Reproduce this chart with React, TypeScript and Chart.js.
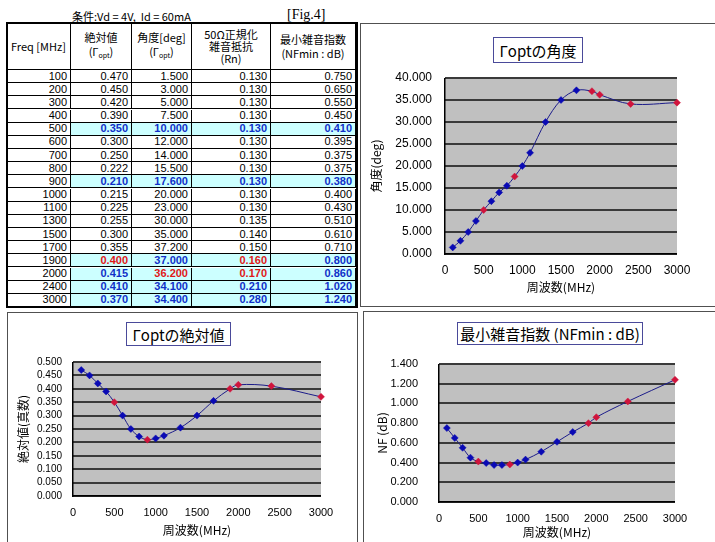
import React, { useEffect, useRef } from "react";
import { Chart, registerables } from "chart.js";

Chart.register(...registerables);

// ---------- data ----------
const freqMHz = [100, 200, 300, 400, 500, 600, 700, 800, 900, 1000, 1100, 1300, 1500, 1700, 1900, 2000, 2400, 3000];
const absGamma = [0.47, 0.45, 0.42, 0.39, 0.35, 0.3, 0.25, 0.222, 0.21, 0.215, 0.225, 0.255, 0.3, 0.355, 0.4, 0.415, 0.41, 0.37];
const angleDeg = [1.5, 3.0, 5.0, 7.5, 10.0, 12.0, 14.0, 15.5, 17.6, 20.0, 23.0, 30.0, 35.0, 37.2, 37.0, 36.2, 34.1, 34.4];
const rnNorm = [0.13, 0.13, 0.13, 0.13, 0.13, 0.13, 0.13, 0.13, 0.13, 0.13, 0.13, 0.135, 0.14, 0.15, 0.16, 0.17, 0.21, 0.28];
const nfMin = [0.75, 0.65, 0.55, 0.45, 0.41, 0.395, 0.375, 0.375, 0.38, 0.4, 0.43, 0.51, 0.61, 0.71, 0.8, 0.86, 1.02, 1.24];
const highlightFreqs = [500, 900, 1900, 2000, 2400, 3000];
// [freq, column index] of values printed in red
const redCells = [[1900, 1], [1900, 3], [2000, 2], [2000, 3]];
const headerTexts = [
  ["Freq [MHz]"],
  ["絶対値", "(Γopt)"],
  ["角度[deg]", "(Γopt)"],
  ["50Ω正規化", "雑音抵抗", "(Rn)"],
  ["最小雑音指数", "(NFmin : dB)"],
];
const captionText = "条件:Vd = 4V,  Id = 60mA";
const figText = "[Fig.4]";
const xAxisTitle = "周波数(MHz)";
const xMin = 0;
const xMax = 3000;
const xStep = 500;

// ---------- styles ----------
const LINE = "#1c1c8a";
const PT_BLUE = "#0a0ab4";
const PT_RED = "#d0143c";
const HL_BG = "#ccffff";
const TXT_BLUE = "#1030c8";
const TXT_RED = "#e01818";
const SANS = "'Liberation Sans', 'Noto Sans CJK JP', sans-serif";
const CJK = "'Noto Sans CJK JP', 'Liberation Sans', sans-serif";

// Plot-area background + horizontal grid, drawn from the y scale's own ticks
const plotBg = {
  id: "plotBg",
  beforeDatasetsDraw(chart: any) {
    const { ctx, chartArea: a, scales } = chart;
    const y = scales.y;
    ctx.save();
    ctx.setLineDash([]);
    ctx.globalAlpha = 1;
    ctx.fillStyle = "#c0c0c0";
    ctx.fillRect(a.left, a.top, a.right - a.left, a.bottom - a.top);
    ctx.fillStyle = "#3a3a3a";
    for (const t of y.ticks) {
      const py = Math.round(y.getPixelForValue(t.value));
      ctx.fillRect(a.left, py - 1, a.right - a.left, 2);
    }
    ctx.fillStyle = "#000";
    ctx.fillRect(Math.round(a.left) - 1, a.top, 1.5, a.bottom - a.top + 1);
    ctx.fillRect(a.left - 1, Math.round(a.bottom) - 1, a.right - a.left + 1, 1.5);
    ctx.restore();
  },
};

type Area = { left: number; right: number; top: number; bottom: number };

function XYChart(props: {
  values: number[];
  yMax: number;
  yStep: number;
  yTitle: string;
  left: number;
  top: number;
  width: number;
  height: number;
  area: Area;
  yTickSize: number;
  xTickSize: number;
  yPad: number;
  xPad: number;
  yTitleX: number;
  xTitleY: number;
}) {
  const ref = useRef<HTMLCanvasElement>(null);
  useEffect(() => {
    const p = props;
    const lh = 12 * 1.2;
    const colors = freqMHz.map((f) => (highlightFreqs.includes(f) ? PT_RED : PT_BLUE));
    const chart = new Chart(ref.current as HTMLCanvasElement, {
      type: "line",
      data: {
        datasets: [
          {
            data: freqMHz.map((f, i) => ({ x: f, y: p.values[i] })),
            borderColor: LINE,
            borderWidth: 1,
            tension: 0.35,
            fill: false,
            pointStyle: "rectRot",
            pointRadius: 3.5,
            pointHoverRadius: 3.5,
            pointBackgroundColor: colors,
            pointBorderColor: colors,
            pointBorderWidth: 0.5,
            clip: 8,
          } as any,
        ],
      },
      options: {
        responsive: false,
        maintainAspectRatio: false,
        animation: false,
        events: [],
        layout: { padding: { left: 0, top: p.area.top, right: p.width - p.area.right, bottom: 0 } },
        plugins: { legend: { display: false }, tooltip: { enabled: false } },
        scales: {
          x: {
            type: "linear",
            min: xMin,
            max: xMax,
            ticks: {
              stepSize: xStep,
              padding: p.xPad,
              maxRotation: 0,
              autoSkip: false,
              color: "#000",
              font: { family: SANS, size: p.xTickSize },
              callback: (v: any) => String(v),
            },
            grid: { display: false, drawTicks: false },
            border: { display: false },
            title: {
              display: true,
              text: xAxisTitle,
              color: "#000",
              font: { family: CJK, size: 12 },
              padding: { top: 0, bottom: p.height - p.xTitleY - lh / 2 },
            },
            afterFit: (s: any) => {
              s.height = p.height - p.area.bottom;
            },
          },
          y: {
            min: 0,
            max: p.yMax,
            ticks: {
              stepSize: p.yStep,
              padding: p.yPad,
              autoSkip: false,
              color: "#000",
              font: { family: SANS, size: p.yTickSize },
              callback: (v: any) => Number(v).toFixed(3),
            },
            grid: { display: false, drawTicks: false },
            border: { display: false },
            title: {
              display: true,
              text: p.yTitle,
              color: "#000",
              font: { family: CJK, size: 12 },
              padding: { top: p.yTitleX - lh / 2, bottom: 0 },
            },
            afterFit: (s: any) => {
              s.width = p.area.left;
            },
          },
        },
      } as any,
      plugins: [plotBg],
    });
    return () => chart.destroy();
  }, []);
  return (
    <canvas
      ref={ref}
      width={props.width}
      height={props.height}
      style={{ position: "absolute", left: props.left, top: props.top, width: props.width, height: props.height }}
    />
  );
}

function TitleBox(props: { text: string; left: number; top: number; width: number; height: number }) {
  return (
    <div
      style={{
        position: "absolute",
        left: props.left,
        top: props.top,
        width: props.width,
        height: props.height,
        boxSizing: "border-box",
        border: "1px solid #4a4a9a",
        background: "#fff",
        display: "flex",
        alignItems: "center",
        justifyContent: "center",
        fontFamily: CJK,
        fontSize: 15,
        color: "#000",
        whiteSpace: "nowrap",
      }}
    >
      {props.text}
    </div>
  );
}

function renderHeaderLine(line: string) {
  if (line.includes("Γopt")) {
    return (
      <span>
        (Γ<sub style={{ fontSize: 7, verticalAlign: "-2px" }}>opt</sub>)
      </span>
    );
  }
  return <span>{line}</span>;
}

function DataTable() {
  const cols = [7, 71, 132, 192, 271, 356];
  const headTop = 23;
  const headBottom = 70;
  const rowH = (307 - 70) / freqMHz.length;
  const cells: React.ReactNode[] = [];
  headerTexts.forEach((lines, c) => {
    cells.push(
      <div
        key={"h" + c}
        style={{
          position: "absolute",
          left: cols[c],
          top: headTop,
          width: cols[c + 1] - cols[c],
          height: headBottom - headTop,
          boxSizing: "border-box",
          borderRight: "1px solid #000",
          borderBottom: "1.5px solid #000",
          display: "flex",
          flexDirection: "column",
          alignItems: "center",
          justifyContent: "center",
          fontFamily: CJK,
          fontSize: 11,
          lineHeight: lines.length === 3 ? "12px" : "14px",
          color: "#000",
          whiteSpace: "nowrap",
        }}
      >
        {lines.map((l, i) => (
          <div key={i}>{renderHeaderLine(l)}</div>
        ))}
      </div>
    );
  });
  freqMHz.forEach((f, r) => {
    const hl = highlightFreqs.includes(f);
    const vals = [String(f), absGamma[r].toFixed(3), angleDeg[r].toFixed(3), rnNorm[r].toFixed(3), nfMin[r].toFixed(3)];
    vals.forEach((v, c) => {
      const red = redCells.some(([rf, rc]) => rf === f && rc === c);
      const bold = hl && c > 0;
      cells.push(
        <div
          key={"r" + r + "c" + c}
          style={{
            position: "absolute",
            left: cols[c],
            top: headBottom + r * rowH,
            width: cols[c + 1] - cols[c],
            height: rowH,
            boxSizing: "border-box",
            borderRight: "1px solid #000",
            borderBottom: "1px solid #000",
            background: bold ? HL_BG : "#fff",
            display: "flex",
            alignItems: "center",
            justifyContent: "flex-end",
            paddingRight: 3,
            fontFamily: SANS,
            fontSize: 11,
            fontWeight: bold ? "bold" : "normal",
            color: red ? TXT_RED : bold ? TXT_BLUE : "#000",
            lineHeight: 1,
          }}
        >
          {v}
        </div>
      );
    });
  });
  return (
    <>
      {cells}
      <div
        style={{
          position: "absolute",
          left: 6,
          top: 22,
          width: 352,
          height: 286,
          boxSizing: "border-box",
          border: "2px solid #000",
        }}
      />
    </>
  );
}

function Box(props: { left: number; top: number; width: number; height: number }) {
  return (
    <div
      style={{
        position: "absolute",
        left: props.left,
        top: props.top,
        width: props.width,
        height: props.height,
        boxSizing: "border-box",
        border: "1px solid #505050",
        background: "#fff",
      }}
    />
  );
}

export default function App() {
  return (
    <div
      style={{
        position: "absolute",
        left: 0,
        top: 0,
        width: 715,
        height: 542,
        overflow: "hidden",
        background: "#fff",
      }}
    >
      <div style={{ position: "absolute", left: 72, top: 9, fontFamily: CJK, fontSize: 11, whiteSpace: "pre", lineHeight: "14px" }}>
        {captionText}
      </div>
      <div style={{ position: "absolute", left: 287, top: 7, fontFamily: "'Liberation Serif', serif", fontSize: 14, lineHeight: "16px" }}>
        {figText}
      </div>
      <DataTable />

      {/* top right: angle */}
      <Box left={360} top={23} width={358} height={284} />
      <XYChart
        values={angleDeg}
        yMax={40}
        yStep={5}
        yTitle="角度(deg)"
        left={361}
        top={24}
        width={353}
        height={282}
        area={{ left: 84, right: 316, top: 54, bottom: 230 }}
        yTickSize={12}
        xTickSize={12}
        yPad={13}
        xPad={9}
        yTitleX={15}
        xTitleY={263}
      />
      <TitleBox text="Γoptの角度" left={493} top={37} width={90} height={26} />

      {/* bottom left: abs */}
      <Box left={7} top={312} width={351} height={240} />
      <XYChart
        values={absGamma}
        yMax={0.5}
        yStep={0.05}
        yTitle="絶対値(真数)"
        left={8}
        top={313}
        width={348}
        height={229}
        area={{ left: 65, right: 313, top: 49, bottom: 183 }}
        yTickSize={10}
        xTickSize={11}
        yPad={11}
        xPad={10}
        yTitleX={15}
        xTitleY={217}
      />
      <TitleBox text="Γoptの絶対値" left={126} top={322} width={105} height={24} />

      {/* bottom right: NF */}
      <Box left={363} top={311} width={356} height={240} />
      <XYChart
        values={nfMin}
        yMax={1.4}
        yStep={0.2}
        yTitle="NF (dB)"
        left={364}
        top={312}
        width={351}
        height={230}
        area={{ left: 75, right: 311, top: 52, bottom: 190 }}
        yTickSize={11}
        xTickSize={11}
        yPad={21}
        xPad={10}
        yTitleX={18}
        xTitleY={220}
      />
      <TitleBox text="最小雑音指数 (NFmin : dB)" left={457} top={322} width={186} height={23} />
    </div>
  );
}
